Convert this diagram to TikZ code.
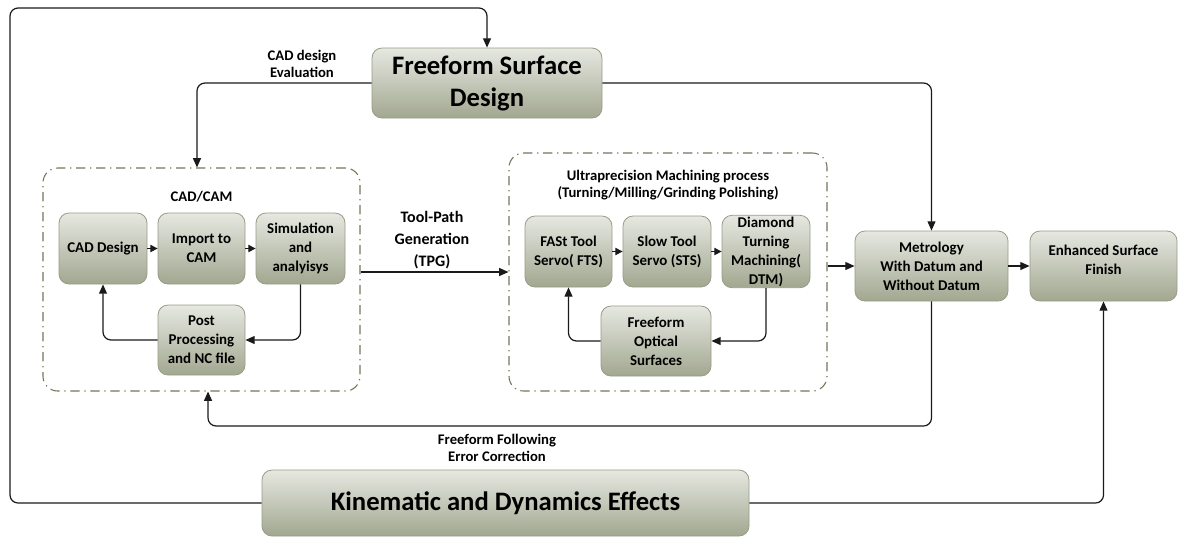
\documentclass[tikz,border=0pt]{standalone}
\usepackage{fontspec}
\setmainfont{Carlito}
\usetikzlibrary{arrows.meta,shapes.misc}
\definecolor{gtop}{HTML}{E6E8E1}
\definecolor{gbot}{HTML}{A2A790}
\definecolor{gborder}{HTML}{979C86}
\definecolor{dashc}{HTML}{6F785C}
\definecolor{linec}{HTML}{1A1A1A}
\tikzset{
  px/.style={x=0.75pt,y=-0.75pt},
  box/.style 2 args={draw=gborder,line width=0.6pt,rounded corners=7.5pt,top color=gtop,bottom color=gbot,
     minimum width=#1*0.75pt,minimum height=#2*0.75pt,inner sep=1pt,align=center,
     font=\fontsize{11.2}{14.25}\selectfont\bfseries},
  bigbox/.style 2 args={box={#1}{#2},font=\fontsize{20}{24}\selectfont\bfseries},
  group/.style 2 args={draw=dashc,line width=0.8pt,rounded corners=11pt,
     dash pattern=on 7pt off 3.5pt on 1pt off 3.5pt,minimum width=#1*0.75pt,minimum height=#2*0.75pt,inner sep=0pt},
  lbl/.style={align=center,font=\fontsize{11}{12.75}\selectfont\bfseries},
  arr/.style={draw=linec,line width=0.9pt,-{Triangle[length=7pt,width=6pt]}},
  smallarr/.style={draw=linec,line width=0.9pt,-{Triangle[length=5.5pt,width=5.5pt]}}
}
\begin{document}
\begin{tikzpicture}[px]
\useasboundingbox (0,0) rectangle (1180,537);
% groups
\node[group={317}{223}] (cadcam) at (201.5,279.5) {};
\node[group={318}{238}] (ump) at (668,272) {};
% main boxes
\node[bigbox={230}{70}] (fsd) at (487,83) {Freeform Surface\\Design};
\node[bigbox={487}{66}] (kde) at (505.5,503) {Kinematic and Dynamics Effects};
\node[box={153}{70}] (met) at (931.5,266) {Metrology\\With Datum and\\Without Datum};
\node[box={147}{70}] (esf) at (1103.5,266) {Enhanced Surface\\Finish\\[-5pt]\mbox{}};
% CAD/CAM
\node[lbl] (cclbl) at (201.5,197) {CAD/CAM};
\node[box={88}{71}] (cad) at (103,248.5) {CAD Design};
\node[box={87}{71}] (imp) at (201.5,248.5) {Import to\\CAM};
\node[box={89}{71}] (sim) at (300.5,248.5) {Simulation\\and\\analyisys};
\node[box={87}{70}] (post) at (201.5,340) {Post\\Processing\\and NC file};
% UMP
\node[lbl] (umplbl) at (668,185) {Ultraprecision Machining process\\(Turning/Milling/Grinding Polishing)};
\node[box={87}{71}] (fts) at (568.5,251.5) {FASt Tool\\Servo( FTS)};
\node[box={88}{71}] (sts) at (667,251.5) {Slow Tool\\Servo (STS)};
\node[box={88}{71}] (dtm) at (766,251.5) {Diamond\\Turning\\Machining(\\DTM)};
\node[box={110}{70}] (fos) at (656,341) {Freeform\\Optical\\Surfaces};
% labels
\node[lbl] (evl) at (302,64) {CAD design\\Evaluation};
\node[align=center,font=\fontsize{12}{16.5}\selectfont\bfseries] (tpg) at (432,240) {Tool-Path\\Generation\\(TPG)};
\node[lbl] (ffl) at (497,448) {Freeform Following\\Error Correction};
% connectors
\draw[arr,rounded corners=6pt] (kde.west) -| (10,8) -| (fsd.north);
\draw[arr,rounded corners=6pt] (fsd.west) -| ([xshift=-3.4pt]cadcam.north);
\draw[arr,rounded corners=6pt] (fsd.east) -| (met.north);
\draw[smallarr] (cad.east) -- (imp.west);
\draw[smallarr] (imp.east) -- (sim.west);
\draw[arr,rounded corners=6pt] (sim.south) |- (post.east);
\draw[arr,rounded corners=6pt] (post.west) -| (cad.south);
\draw[arr] (cadcam.east |- ump.west) -- (ump.west);
\draw[smallarr] (fts.east) -- (sts.west);
\draw[smallarr] (sts.east) -- (dtm.west);
\draw[arr,rounded corners=6pt] (dtm.south) |- (fos.east);
\draw[arr,rounded corners=6pt] (fos.west) -| (fts.south);
\draw[arr] (ump.east |- met.west) -- (met.west);
\draw[arr] (met.east) -- (esf.west);
\draw[arr,rounded corners=6pt] (met.south) |- ([xshift=4.9pt]cadcam.south |- 0,426) -- ([xshift=4.9pt]cadcam.south);
\draw[arr,rounded corners=6pt] (kde.east) -| (esf.south);
\end{tikzpicture}
\end{document}
